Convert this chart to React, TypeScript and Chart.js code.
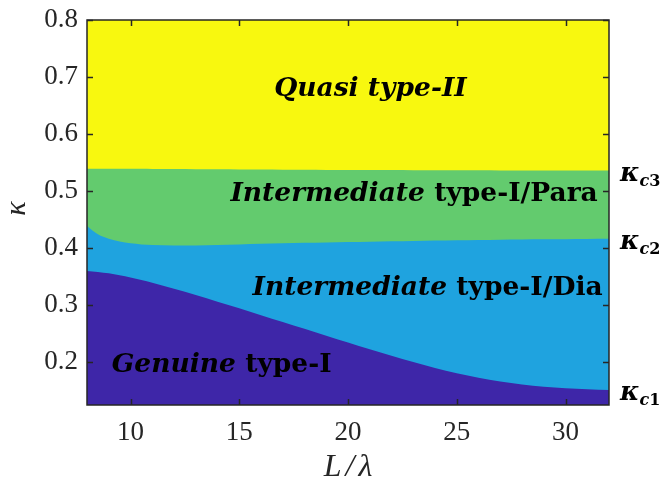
import React, { useEffect, useRef } from "react";
import { Chart, registerables } from "chart.js";

Chart.register(...registerables);

// ---- data ----
const lengthRatio = [8, 8.25, 8.5, 9, 9.5, 10, 10.5, 11, 12, 13, 14, 15, 16, 17, 18, 19, 20, 21, 22, 23, 24, 25, 26, 27, 28, 29, 30, 31, 32];
// boundary Genuine type-I / Intermediate type-I/Dia
const kappaC1 = [0.36, 0.35925, 0.3584, 0.3559, 0.3526, 0.3486, 0.3441, 0.3392, 0.3287, 0.3177, 0.3062, 0.2945, 0.2825, 0.2705, 0.2585, 0.2465, 0.2345, 0.2227, 0.2112, 0.2002, 0.19, 0.1808, 0.1728, 0.1662, 0.161, 0.1572, 0.1545, 0.1525, 0.1512];
// boundary Intermediate Dia / Intermediate Para
const kappaC2 = [0.439, 0.431, 0.4245, 0.4165, 0.4118, 0.4085, 0.4066, 0.4055, 0.4048, 0.4048, 0.4055, 0.4065, 0.4075, 0.4085, 0.4093, 0.41, 0.4107, 0.4114, 0.412, 0.4126, 0.4132, 0.4137, 0.4142, 0.4147, 0.4151, 0.4155, 0.4158, 0.4161, 0.4163];
// boundary Intermediate Para / Quasi type-II
const kappaC3 = [0.539, 0.539, 0.539, 0.539, 0.539, 0.539, 0.539, 0.5388, 0.5386, 0.5384, 0.5382, 0.538, 0.5378, 0.5376, 0.5374, 0.5372, 0.537, 0.5369, 0.5368, 0.5367, 0.5366, 0.5365, 0.5364, 0.5363, 0.5362, 0.5361, 0.536, 0.536, 0.536];

const xRange = [8, 32];
const yRange = [0.125, 0.8];
const xTicks = [10, 15, 20, 25, 30];
const yTicks = [0.2, 0.3, 0.4, 0.5, 0.6, 0.7, 0.8];

const regionNames = [
  [{ text: "Quasi type-II", italic: true }],
  [{ text: "Intermediate", italic: true }, { text: " type-I/Para", italic: false }],
  [{ text: "Intermediate", italic: true }, { text: " type-I/Dia", italic: false }],
  [{ text: "Genuine", italic: true }, { text: " type-I", italic: false }],
];
const regionAnchorX = [21.03, 23.04, 23.66, 14.19];
const regionAnchorY = [0.666, 0.483, 0.318, 0.182];

const criticalNames = ["1", "2", "3"];

// ---- styles ----
const COLORS = {
  purple: "#3E26A8",
  blue: "#1FA3DF",
  green: "#63CB6E",
  yellow: "#F8F80F",
  axis: "#262626",
};
const TICK_FONT = "Liberation Serif";
const LABEL_FONT = "DejaVu Serif";

const toPoints = (ys: number[]) => lengthRatio.map((x, i) => ({ x, y: ys[i] }));

const overlayPlugin = {
  id: "overlay",
  afterDatasetsDraw(chart: any) {
    const { ctx, chartArea: a, scales } = chart;
    const xs = scales.x;
    const ys = scales.y;
    ctx.save();
    ctx.strokeStyle = COLORS.axis;
    ctx.lineWidth = 1.5;
    ctx.strokeRect(a.left, a.top, a.right - a.left, a.bottom - a.top);
    const tl = 6;
    ctx.beginPath();
    for (const v of xTicks) {
      const px = Math.round(xs.getPixelForValue(v)) + 0.5;
      ctx.moveTo(px, a.bottom);
      ctx.lineTo(px, a.bottom - tl);
      ctx.moveTo(px, a.top);
      ctx.lineTo(px, a.top + tl);
    }
    for (const v of yTicks) {
      const py = Math.round(ys.getPixelForValue(v)) + 0.5;
      ctx.moveTo(a.left, py);
      ctx.lineTo(a.left + tl, py);
      ctx.moveTo(a.right, py);
      ctx.lineTo(a.right - tl, py);
    }
    ctx.stroke();

    // region labels
    ctx.fillStyle = "#000";
    ctx.textBaseline = "alphabetic";
    ctx.textAlign = "left";
    const size = 26.5;
    regionNames.forEach((parts, k) => {
      const fonts = parts.map((p) => `${p.italic ? "italic " : ""}bold ${size}px "${LABEL_FONT}"`);
      const widths = parts.map((p, i) => {
        ctx.font = fonts[i];
        return ctx.measureText(p.text).width;
      });
      const total = widths.reduce((s, w) => s + w, 0);
      let x = xs.getPixelForValue(regionAnchorX[k]) - total / 2;
      const y = ys.getPixelForValue(regionAnchorY[k]);
      parts.forEach((p, i) => {
        ctx.font = fonts[i];
        ctx.fillText(p.text, x, y);
        x += widths[i];
      });
    });

    // critical kappa labels on the right
    const lastVals = [kappaC1, kappaC2, kappaC3].map((arr) => arr[arr.length - 1]);
    lastVals.forEach((v, i) => {
      const x0 = a.right + 11;
      const y0 = ys.getPixelForValue(v) + 10;
      ctx.font = `italic bold 26px "${LABEL_FONT}"`;
      ctx.fillText("κ", x0, y0);
      const w = ctx.measureText("κ").width;
      ctx.font = `italic bold 16px "${LABEL_FONT}"`;
      ctx.fillText("c", x0 + w, y0 + 5);
      const wc = ctx.measureText("c").width;
      ctx.font = `bold 16px "${LABEL_FONT}"`;
      ctx.fillText(criticalNames[i], x0 + w + wc, y0 + 5);
    });

    // axis titles
    ctx.fillStyle = COLORS.axis;
    ctx.textAlign = "center";
    ctx.font = `italic 32px "${TICK_FONT}"`;
    (ctx as any).letterSpacing = "4px";
    ctx.fillText("L/λ", (a.left + a.right) / 2 + 2, 476);
    (ctx as any).letterSpacing = "0px";
    ctx.save();
    ctx.translate(25, (a.top + a.bottom) / 2 - 4);
    ctx.rotate(-Math.PI / 2);
    ctx.font = `italic 30px "${TICK_FONT}"`;
    ctx.fillText("κ", 0, 0);
    ctx.restore();
    ctx.restore();
  },
};

export default function App() {
  const ref = useRef<HTMLCanvasElement | null>(null);
  useEffect(() => {
    document.body.style.margin = "0";
    const canvas = ref.current;
    if (!canvas) return;
    const common = { pointRadius: 0, borderWidth: 0, cubicInterpolationMode: "monotone" as const };
    const chart = new Chart(canvas, {
      type: "line",
      data: {
        datasets: [
          { ...common, label: "Genuine", data: toPoints(kappaC1), fill: "start", backgroundColor: COLORS.purple, borderColor: COLORS.purple },
          { ...common, label: "Dia", data: toPoints(kappaC2), fill: "start", backgroundColor: COLORS.blue, borderColor: COLORS.blue },
          { ...common, label: "Para", data: toPoints(kappaC3), fill: "start", backgroundColor: COLORS.green, borderColor: COLORS.green },
          { ...common, label: "Quasi", data: lengthRatio.map((x) => ({ x, y: yRange[1] })), fill: "start", backgroundColor: COLORS.yellow, borderColor: COLORS.yellow },
        ],
      },
      options: {
        responsive: false,
        animation: false,
        layout: { padding: { top: 20, right: 53, left: 0, bottom: 0 } },
        plugins: { legend: { display: false }, tooltip: { enabled: false } },
        scales: {
          x: {
            type: "linear",
            min: xRange[0],
            max: xRange[1],
            grid: { display: false, drawTicks: false },
            border: { display: false },
            afterBuildTicks: (s: any) => {
              s.ticks = xTicks.map((value) => ({ value }));
            },
            afterFit: (s: any) => {
              s.height = 78;
              s.paddingLeft = 0;
              s.paddingRight = 0;
            },
            ticks: { color: COLORS.axis, font: { family: TICK_FONT, size: 27 }, padding: 12, maxRotation: 0, callback: (v: any) => String(v) },
          },
          y: {
            type: "linear",
            min: yRange[0],
            max: yRange[1],
            grid: { display: false, drawTicks: false },
            border: { display: false },
            afterBuildTicks: (s: any) => {
              s.ticks = yTicks.map((value) => ({ value }));
            },
            afterFit: (s: any) => {
              s.width = 87;
              s.paddingTop = 0;
              s.paddingBottom = 0;
            },
            ticks: { color: COLORS.axis, font: { family: TICK_FONT, size: 27 }, padding: 9, callback: (v: any) => Number(v).toFixed(1) },
          },
        },
      },
      plugins: [overlayPlugin],
    });
    return () => chart.destroy();
  }, []);
  return <canvas ref={ref} width={662} height={483} />;
}
